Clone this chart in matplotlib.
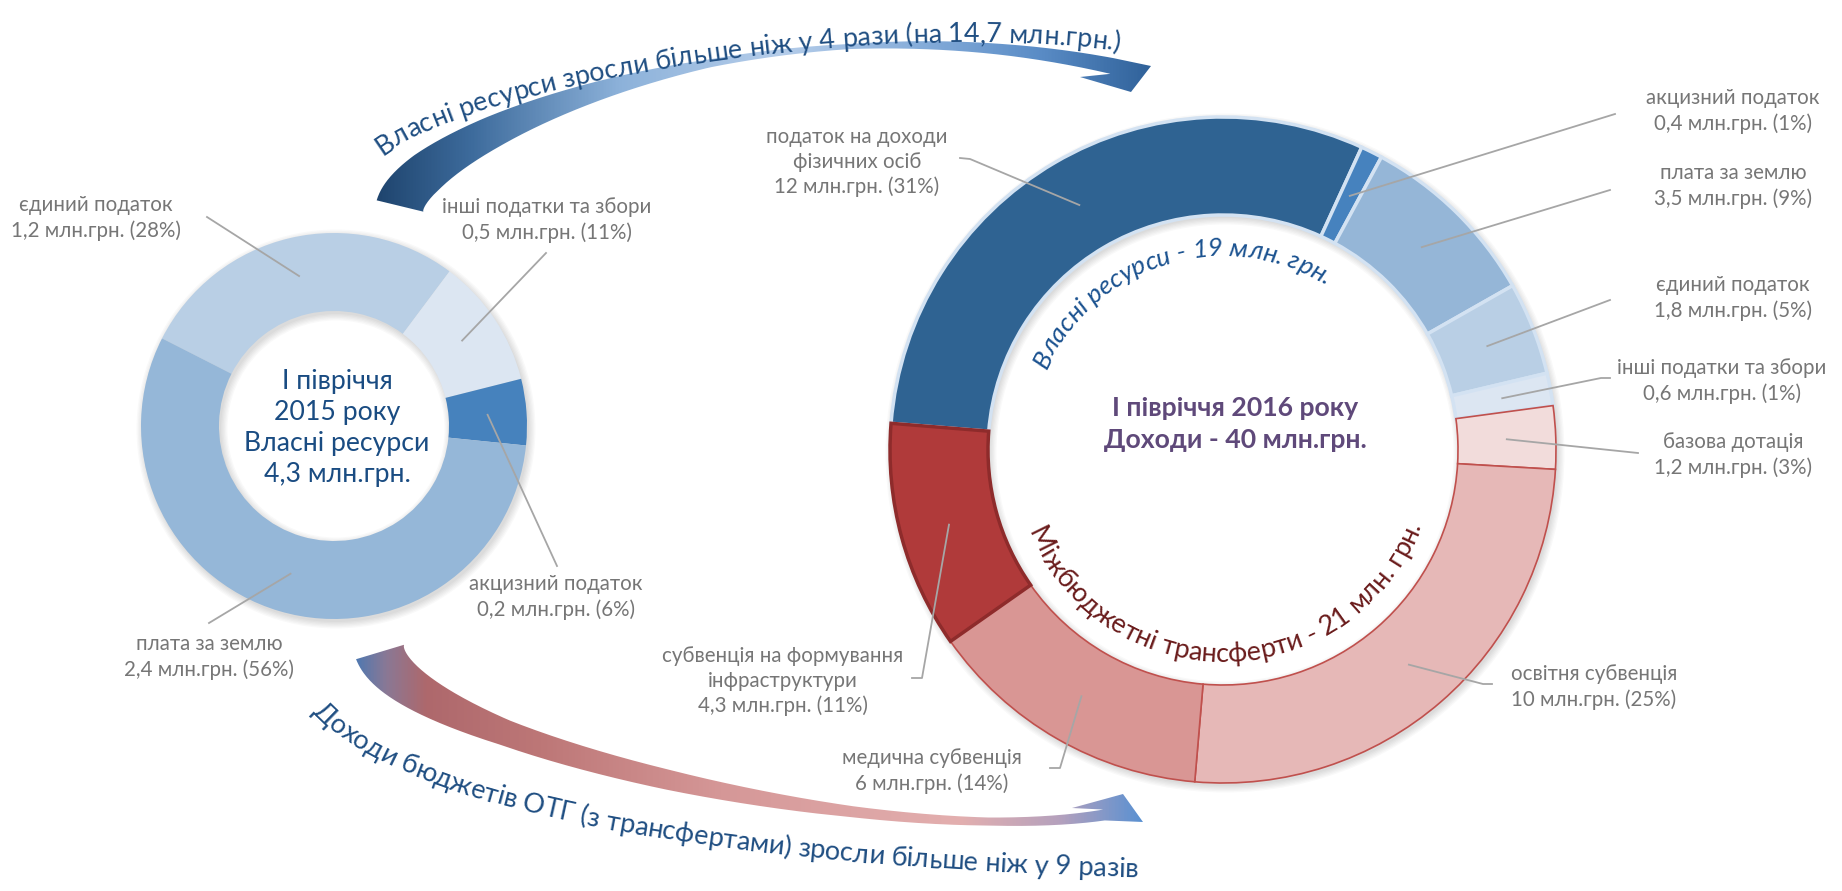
import numpy as np
import matplotlib
matplotlib.use('Agg')
import matplotlib.pyplot as plt
from matplotlib.font_manager import FontProperties, findfont
from matplotlib.ft2font import FT2Font
from matplotlib.path import Path
from matplotlib.patches import PathPatch, Wedge
from matplotlib.colors import LinearSegmentedColormap

W, H = 1842, 891
FAMILY = ['Lato', 'DejaVu Sans']
plt.rcParams['font.family'] = FAMILY

# ---- data: first half of 2015 (own resources) ----
left_names = ['єдиний податок', 'інші податки та збори', 'акцизний податок', 'плата за землю']
left_values = [1.2, 0.47, 0.24, 2.42]
left_amounts = ['1,2 млн.грн. (28%)', '0,5 млн.грн. (11%)', '0,2 млн.грн. (6%)', '2,4 млн.грн. (56%)']
left_colors = ['#B9CFE5', '#DCE6F2', '#4682BD', '#95B7D8']

# ---- data: first half of 2016 (all revenues) ----
right_names = ['податок на доходи\nфізичних осіб', 'акцизний податок', 'плата за землю',
               'єдиний податок', 'інші податки та збори', 'базова дотація',
               'освітня субвенція', 'медична субвенція', 'субвенція на формування\nінфраструктури']
right_values = [12.2, 0.42, 3.55, 1.8, 0.63, 1.22, 10.15, 5.55, 4.4]
right_amounts = ['12 млн.грн. (31%)', '0,4 млн.грн. (1%)', '3,5 млн.грн. (9%)', '1,8 млн.грн. (5%)',
                 '0,6 млн.грн. (1%)', '1,2 млн.грн. (3%)', '10 млн.грн. (25%)', '6 млн.грн. (14%)',
                 '4,3 млн.грн. (11%)']
right_colors = ['#2F6392', '#4682BE', '#95B6D7', '#B9CFE5', '#DCE6F2',
                '#F2DCDB', '#E6B8B7', '#D99694', '#B03A3A']


def fp(size, weight='normal', style='normal'):
    return FontProperties(family=FAMILY, size=size, weight=weight, style=style)


def advances(text, prop):
    font = FT2Font(findfont(prop), hinting_factor=1)
    font.set_size(prop.get_size_in_points(), 100)
    return np.array([font.load_char(ord(c)).linearHoriAdvance / 65536 for c in text])


def to_data(pts):
    pts = np.array(pts, float)
    pts[..., 1] = H - pts[..., 1]
    return pts


def bezier(p, n=400):
    t = np.linspace(0, 1, n)[:, None]
    p = np.asarray(p, float)
    return (1 - t) ** 3 * p[0] + 3 * (1 - t) ** 2 * t * p[1] + 3 * (1 - t) * t ** 2 * p[2] + t ** 3 * p[3]


def arc(center, r, a0, a1, n=400):
    th = np.radians(np.linspace(a0, a1, n))
    return np.c_[center[0] + r * np.cos(th), center[1] + r * np.sin(th)]


def text_along(ax, text, path, prop, color, align='start'):
    # path in data coords, letters sit on the left side of the travel direction
    seg = np.diff(path, axis=0)
    s = np.r_[0, np.cumsum(np.hypot(seg[:, 0], seg[:, 1]))]
    adv = advances(text, prop)
    s0 = 0 if align == 'start' else (s[-1] - adv.sum()) / 2
    pos = s0 + np.cumsum(adv) - adv / 2
    for ch, si in zip(text, pos):
        x = np.interp(si, s, path[:, 0])
        y = np.interp(si, s, path[:, 1])
        i = int(np.clip(np.searchsorted(s, si), 1, len(s) - 1))
        dx, dy = path[i] - path[i - 1]
        ax.text(x, y, ch, rotation=np.degrees(np.arctan2(dy, dx)), rotation_mode='anchor',
                ha='center', va='baseline', fontproperties=prop, color=color, zorder=6)


def curved_arrow(ax, ctrl, t_stops, w_stops, head, xs, cols):
    t = np.linspace(0, 1, 300)
    c = bezier(ctrl, 300)
    d = np.gradient(c, axis=0)
    d /= np.hypot(d[:, 0], d[:, 1])[:, None]
    nrm = np.c_[d[:, 1], -d[:, 0]]
    w = np.interp(t, t_stops, w_stops)[:, None] / 2
    poly = to_data(np.vstack([c + nrm * w, head, (c - nrm * w)[::-1]]))
    pos = (np.array(xs) - xs[0]) / (xs[-1] - xs[0])
    cmap = LinearSegmentedColormap.from_list('g', list(zip(pos, cols)))
    im = ax.imshow(np.linspace(0, 1, 512)[None, :], cmap=cmap, aspect='auto',
                   extent=(xs[0], xs[-1], poly[:, 1].min() - 2, poly[:, 1].max() + 2),
                   interpolation='bilinear', zorder=1)
    patch = PathPatch(Path(poly), facecolor='none', edgecolor='none')
    ax.add_patch(patch)
    im.set_clip_path(patch)


def shadow(ax, center, r, width):
    for k in range(6):
        ax.add_patch(Wedge((center[0] + 2, center[1] - 3), r + k * 1.3, 0, 360,
                           width=width + 2 * k * 1.3, facecolor='black', alpha=0.025,
                           edgecolor='none', zorder=1))


def mid_angles(values, start):
    v = np.array(values, float)
    cum = np.cumsum(v) - v / 2
    return start - 360 * cum / v.sum()


def labels(ax, center, r_mid, angles, names, amounts, label_xy, hooks):
    for ang, name, amt, xy, hook in zip(angles, names, amounts, label_xy, hooks):
        a = np.radians(ang)
        p0 = (center[0] + r_mid * np.cos(a), center[1] + r_mid * np.sin(a))
        pts = np.vstack([[p0], to_data(hook)])
        ax.plot(pts[:, 0], pts[:, 1], color='#A6A6A6', lw=1.3, zorder=4)
        x, y = to_data(xy)
        ax.text(x, y, name + '\n' + amt, ha='center', va='center', linespacing=1.28,
                fontproperties=fp(14.8), color='#767676', zorder=5)


fig = plt.figure(figsize=(W / 100, H / 100), dpi=100)
ax = fig.add_axes([0, 0, 1, 1])

# ---- left donut ----
lc, lr, lw = to_data((334, 426)), 193, 78
shadow(ax, lc, lr, lw)
ax.pie(left_values, colors=left_colors, radius=lr, center=lc, startangle=153,
       counterclock=False, wedgeprops=dict(width=lw, edgecolor='none', zorder=2))
labels(ax, lc, lr - lw / 2, mid_angles(left_values, 153), left_names, left_amounts,
       [(96, 218), (547, 220), (556, 597), (209, 657)],
       [[(207, 217)], [(546, 253)], [(557, 566)], [(209, 623)]])
ax.text(*to_data((337, 428)), 'І півріччя\n2015 року\nВласні ресурси\n4,3 млн.грн.',
        ha='center', va='center', linespacing=1.3, fontproperties=fp(19.2), color='#1A4C82', zorder=5)

# ---- right donut ----
rc, rr, rw = to_data((1223, 450)), 333, 98
shadow(ax, rc, rr, rw)
wedges, _ = ax.pie(right_values, colors=right_colors, radius=rr, center=rc, startangle=175.4,
                   counterclock=False, wedgeprops=dict(width=rw, zorder=2))
for i, wd in enumerate(wedges):
    if i < 5:
        wd.set_edgecolor('#D3E2F2'); wd.set_linewidth(2.5)
    elif i == 8:
        wd.set_edgecolor('#8E2B2B'); wd.set_linewidth(2.5)
    else:
        wd.set_edgecolor('#C0504D'); wd.set_linewidth(1.2)
labels(ax, rc, rr - rw / 2, mid_angles(right_values, 175.4), right_names, right_amounts,
       [(857, 162), (1733, 111), (1733, 186), (1733, 298), (1722, 381), (1733, 455),
        (1594, 687), (932, 771), (783, 681)],
       [[(970, 159), (960, 158)], [(1615, 114)], [(1610, 190)], [(1610, 300)],
        [(1601, 378), (1610, 378)], [(1638, 453)], [(1483, 684), (1492, 684)],
        [(1060, 768), (1050, 768)], [(922, 678), (912, 678)]])
ax.text(*to_data((1235, 424)), 'І півріччя 2016 року\nДоходи - 40 млн.грн.', ha='center',
        va='center', linespacing=1.45, fontproperties=fp(19.2, weight='bold'), color='#5F497A', zorder=5)
text_along(ax, 'Власні ресурси - 19 млн. грн.', arc(rc, 194, 158, 55.5), fp(18.8, style='italic'),
           '#1B5290', align='center')
text_along(ax, 'Міжбюджетні трансферти - 21 млн. грн.', arc(rc, 212, -157, -21), fp(19.5),
           '#6A1C1C', align='center')

# ---- arrows ----
curved_arrow(ax, [(400, 206), (415, 140), (750, -10), (1112, 66)],
             [0, 0.15, 0.3, 0.45, 0.6, 0.75, 0.9, 1], [48, 42, 32, 20, 8, 5, 11, 16],
             [(1151, 66), (1131, 92), (1080, 77)],
             [370, 470, 620, 780, 920, 1040, 1155],
             ['#1D426B', '#3D6B9C', '#8DB2DA', '#B5CDEA', '#86ADDA', '#5A8CC6', '#2E6098'])
curved_arrow(ax, [(380, 652), (405, 740), (880, 850), (1104, 815)],
             [0, 0.15, 0.3, 0.5, 0.7, 0.85, 1], [50, 38, 26, 20, 11, 8, 11],
             [(1072, 808), (1123, 794), (1143, 822)],
             [352, 385, 425, 540, 720, 960, 1060, 1145],
             ['#4A79B3', '#8A7895', '#AE686C', '#BD7777', '#D59797', '#E3AFAF', '#B5A1BD', '#5790D2'])
text_along(ax, 'Власні ресурси зросли більше ніж у 4 рази (на 14,7 млн.грн.)',
           to_data(bezier([(383, 156), (480, 80), (910, 12), (1150, 56)])), fp(19.4), '#1F4E82')
text_along(ax, 'Доходи бюджетів ОТГ (з трансфертами) зросли більше ніж у 9 разів',
           to_data(bezier([(312, 712), (430, 842), (900, 874), (1185, 878)])), fp(19.6), '#1F4E82')

ax.set_xlim(0, W)
ax.set_ylim(0, H)
ax.set_aspect('auto')
ax.axis('off')
fig.savefig('out.png', dpi=100)
